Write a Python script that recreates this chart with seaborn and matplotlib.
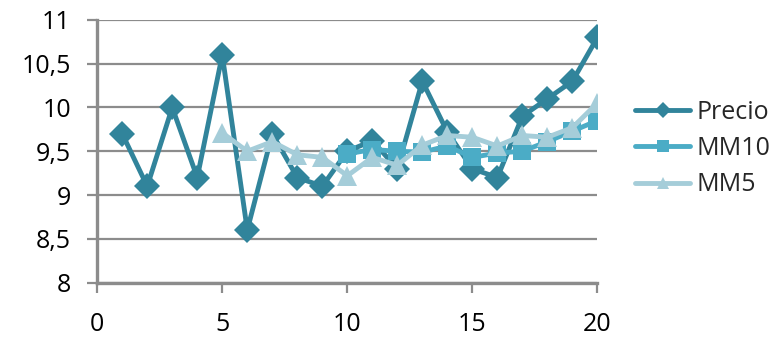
import matplotlib
matplotlib.use("Agg")
import matplotlib.pyplot as plt
import seaborn as sns
import pandas as pd

# values
dias = list(range(1, 21))
precio = [9.7, 9.1, 10.0, 9.2, 10.6, 8.6, 9.7, 9.2, 9.1, 9.5,
          9.62, 9.3, 10.3, 9.72, 9.3, 9.2, 9.9, 10.1, 10.3, 10.8]
mm10_x = list(range(10, 21))
mm10 = [9.47, 9.52, 9.5, 9.49, 9.56, 9.43, 9.48, 9.5, 9.61, 9.73, 9.85]
mm5_x = list(range(5, 21))
mm5 = [9.71, 9.5, 9.61, 9.46, 9.43, 9.22, 9.43, 9.34, 9.57, 9.68,
       9.66, 9.56, 9.68, 9.66, 9.77, 10.05]

sns.set_style("white")
plt.rcParams['font.family'] = ['Open Sans', 'DejaVu Sans']

fig = plt.figure(figsize=(7.84, 3.38), dpi=100)
ax = fig.add_axes([0.124, 0.164, 0.638, 0.777])

sns.lineplot(x=dias, y=precio, ax=ax, color='#31849b', lw=3.5, marker='D',
             markersize=13, markeredgewidth=0, label='Precio', zorder=3)
sns.lineplot(x=mm10_x, y=mm10, ax=ax, color='#4bacc6', lw=3.5, marker='s',
             markersize=12.5, markeredgewidth=0, label='MM10', zorder=4)
sns.lineplot(x=mm5_x, y=mm5, ax=ax, color='#a5cdd9', lw=3.5, marker='^',
             markersize=14, markeredgewidth=0, label='MM5', zorder=5)

ax.set_xlim(0, 20)
ax.set_ylim(8, 11)
ax.set_xticks([0, 5, 10, 15, 20])
ax.set_yticks([8, 8.5, 9, 9.5, 10, 10.5, 11])
ax.set_yticklabels(['8', '8,5', '9', '9,5', '10', '10,5', '11'])
ax.yaxis.grid(True, color='#8c8c8c', lw=1.6)
ax.set_axisbelow(True)
for s in ['top', 'right']:
    ax.spines[s].set_visible(False)
for s in ['left', 'bottom']:
    ax.spines[s].set_color('#8c8c8c')
    ax.spines[s].set_linewidth(2.4)
ax.tick_params(axis='both', colors='#8c8c8c', labelcolor='black', labelsize=18,
               direction='out', length=7, width=1.6, bottom=True, left=True)
ax.tick_params(axis='y', pad=12)
ax.tick_params(axis='x', pad=14)

ax.legend(loc='center left', bbox_to_anchor=(1.076, 0.51), frameon=False,
          fontsize=18, handlelength=2.2, handletextpad=0.25, labelspacing=0.45,
          borderaxespad=0, borderpad=0, markerscale=0.65)

fig.savefig('out.png', dpi=100)
